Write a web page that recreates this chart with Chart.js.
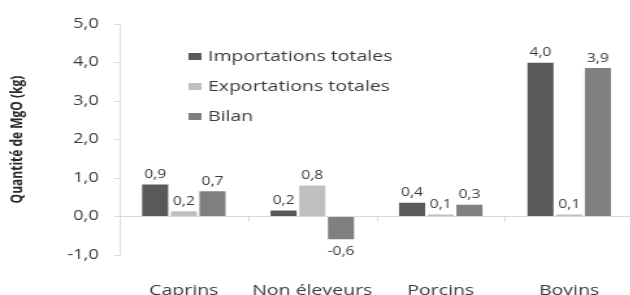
<!DOCTYPE html>
<html>
<head>
<meta charset="utf-8">
<script src="https://cdn.jsdelivr.net/npm/chart.js@4"></script>
<style>
html, body { margin: 0; padding: 0; background: #fff; overflow: hidden; width: 630px; height: 295px; }
/* le graphique d'origine est étiré horizontalement */
#wrap { position: absolute; left: 0; top: 0; width: 488px; height: 295px; transform: scaleX(1.3); transform-origin: 0 0; }
</style>
</head>
<body>
<div id="wrap"><canvas id="chart"></canvas></div>
<script>
// Données (kg de MgO)
const categories = ['Caprins', 'Non éleveurs', 'Porcins', 'Bovins'];
const importations = [0.86, 0.18, 0.38, 4.02];
const exportations = [0.16, 0.83, 0.08, 0.08];
const bilan = [0.68, -0.62, 0.33, 3.88];
const seriesNames = ['Importations totales', 'Exportations totales', 'Bilan'];
const seriesColors = ['#595959', '#bfbfbf', '#7f7f7f'];
const yTicks = [-1, 0, 1, 2, 3, 4, 5];

const FONT = "'Open Sans', sans-serif";
const TEXT = '#3a3a3a';
const AXIS = '#d9d9d9';

// Format décimal français
function fr(v) {
    return v.toFixed(1).replace('.', ',');
}

// Légende dessinée à l'intérieur de la zone du graphique
const insideLegend = {
    id: 'insideLegend',
    afterDraw(chart) {
        const ctx = chart.ctx;
        ctx.save();
        ctx.font = '15px ' + FONT;
        ctx.textBaseline = 'middle';
        chart.data.datasets.forEach((ds, i) => {
            const y = 57 + i * 30;
            ctx.fillStyle = ds.backgroundColor;
            ctx.fillRect(145, y - 4, 10, 7);
            ctx.fillStyle = TEXT;
            ctx.fillText(ds.label, 160, y);
        });
        ctx.restore();
    }
};

// Étiquettes de valeurs et petites graduations de l'axe des catégories
const valueLabels = {
    id: 'valueLabels',
    afterDatasetsDraw(chart) {
        const ctx = chart.ctx;
        const x = chart.scales.x;
        const y0 = chart.scales.y.getPixelForValue(0);
        ctx.save();
        ctx.strokeStyle = AXIS;
        ctx.lineWidth = 1;
        for (let i = 1; i < categories.length; i++) {
            const bx = Math.round((x.getPixelForTick(i - 1) + x.getPixelForTick(i)) / 2) + 0.5;
            ctx.beginPath();
            ctx.moveTo(bx, y0);
            ctx.lineTo(bx, y0 + 5);
            ctx.stroke();
        }
        ctx.font = '12px ' + FONT;
        ctx.fillStyle = TEXT;
        ctx.textAlign = 'center';
        chart.data.datasets.forEach((ds, i) => {
            chart.getDatasetMeta(i).data.forEach((bar, j) => {
                const v = ds.data[j];
                if (v >= 0) {
                    ctx.textBaseline = 'bottom';
                    ctx.fillText(fr(v), bar.x, bar.y - 3);
                } else {
                    ctx.textBaseline = 'top';
                    ctx.fillText(fr(v), bar.x, bar.y + 5);
                }
            });
        });
        ctx.restore();
    }
};

const ctx = document.getElementById('chart').getContext('2d');
new Chart(ctx, {
    type: 'bar',
    data: {
        labels: categories,
        datasets: [importations, exportations, bilan].map((d, i) => ({
            label: seriesNames[i],
            data: d,
            backgroundColor: seriesColors[i],
            borderColor: 'rgba(255,255,255,0.6)',
            borderWidth: 1,
            categoryPercentage: 0.67,
            barPercentage: 1.0
        }))
    },
    options: {
        responsive: true,
        maintainAspectRatio: false,
        animation: false,
        layout: { padding: { top: 24, left: 0, right: 0, bottom: 0 } },
        plugins: {
            legend: { display: false },
            tooltip: { enabled: false }
        },
        scales: {
            x: {
                grid: { display: false, drawTicks: false },
                border: { display: false },
                ticks: { color: TEXT, font: { family: FONT, size: 15 }, padding: 27 },
                afterFit(scale) { scale.height = 40; }
            },
            y: {
                min: -1,
                max: 5,
                afterBuildTicks(scale) { scale.ticks = yTicks.map(v => ({ value: v })); },
                ticks: {
                    color: TEXT,
                    font: { family: FONT, size: 14 },
                    padding: 12,
                    callback: v => fr(v)
                },
                grid: {
                    color: c => (c.tick && c.tick.value === 0) ? AXIS : 'rgba(0,0,0,0)',
                    tickColor: AXIS,
                    tickLength: 4
                },
                border: { color: AXIS },
                title: {
                    display: true,
                    text: 'Quantité de MgO (kg)',
                    color: '#262626',
                    font: { family: FONT, size: 12, weight: 'bold' },
                    padding: { top: 6, bottom: 0 }
                },
                afterFit(scale) { scale.width = 92; }
            }
        }
    },
    plugins: [insideLegend, valueLabels]
});
</script>
</body>
</html>
